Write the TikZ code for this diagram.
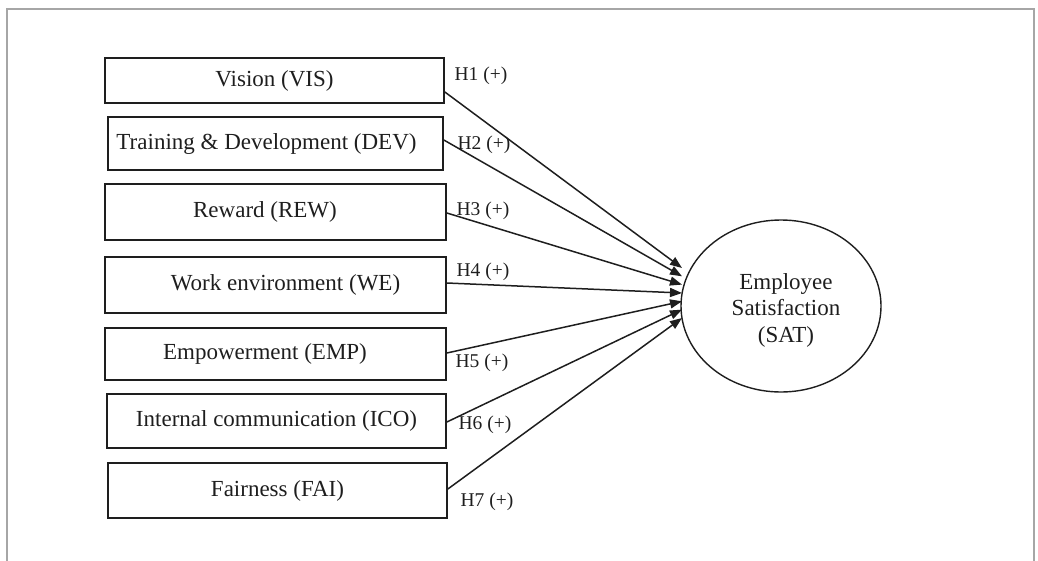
\documentclass[tikz,border=0pt]{standalone}
\usepackage{fontspec}
\setmainfont{Liberation Serif}
\usetikzlibrary{arrows.meta,shapes.geometric}
\definecolor{ink}{HTML}{1E1E1E}
\tikzset{
  box/.style={draw=ink, line width=1.7pt, minimum height=#1, inner sep=0pt, text=ink,
              font=\fontsize{23}{26}\selectfont},
  hlab/.style={text=ink, inner sep=0pt, font=\fontsize{19.5}{22}\selectfont},
  conn/.style={draw=ink, line width=1.5pt, -{Triangle[length=12pt,width=9pt]}},
  frame/.style={draw=gray!70, line width=1.3pt}
}
\begin{document}
\begin{tikzpicture}[x=1pt,y=-1pt]
\useasboundingbox (0,0) rectangle (1038,560);
\draw[frame] (7,565) -- (7,9) -- (1034,9) -- (1034,565);

\node[box=45pt, minimum width=339pt] (b1) at (274.5,80.5) {Vision (VIS)};
\node[box=53pt, minimum width=335pt] (b2) at (275.5,143.5) {Training \& Development (DEV)\hspace*{18pt}};
\node[box=56pt, minimum width=341pt] (b3) at (275.5,212) {Reward (REW)\hspace*{21pt}};
\node[box=56pt, minimum width=341pt] (b4) at (275.5,285) {\hspace*{20pt}Work environment (WE)};
\node[box=52pt, minimum width=341pt] (b5) at (275.5,354) {Empowerment (EMP)\hspace*{21pt}};
\node[box=54pt, minimum width=339pt] (b6) at (276.5,421) {Internal communication (ICO)};
\node[box=55pt, minimum width=339pt] (b7) at (277.5,490.5) {Fairness (FAI)};

\node[draw=ink, line width=1.4pt, ellipse, minimum width=200pt, minimum height=172pt, inner sep=0pt] (sat) at (781,306) {};
\node[text=ink, align=center, font=\fontsize{23}{26.5}\selectfont] (satt) at (786,310) {Employee\\Satisfaction\\(SAT)};

\coordinate (e1) at (682,268);
\coordinate (e2) at (682,276.3);
\coordinate (e3) at (682,284.6);
\coordinate (e4) at (682,293);
\coordinate (e5) at (682,301.3);
\coordinate (e6) at (682,309.6);
\coordinate (e7) at (682,318);

\draw[conn] ([yshift=-11.5pt]b1.east) -- (e1);
\draw[conn] ([yshift=3.5pt]b2.east) -- (e2);
\draw[conn] ([yshift=-1pt]b3.east) -- (e3);
\draw[conn] ([yshift=2pt]b4.east) -- (e4);
\draw[conn] ([yshift=1pt]b5.east) -- (e5);
\draw[conn] ([yshift=-1pt]b6.east) -- (e6);
\draw[conn] ([yshift=1.5pt]b7.east) -- (e7);

\node[hlab] (h1) at (481,76) {H1 (+)};
\node[hlab] (h2) at (484,145) {H2 (+)};
\node[hlab] (h3) at (483,211) {H3 (+)};
\node[hlab] (h4) at (483,272) {H4 (+)};
\node[hlab] (h5) at (482,363) {H5 (+)};
\node[hlab] (h6) at (485,425) {H6 (+)};
\node[hlab] (h7) at (487,502) {H7 (+)};
\end{tikzpicture}
\end{document}
